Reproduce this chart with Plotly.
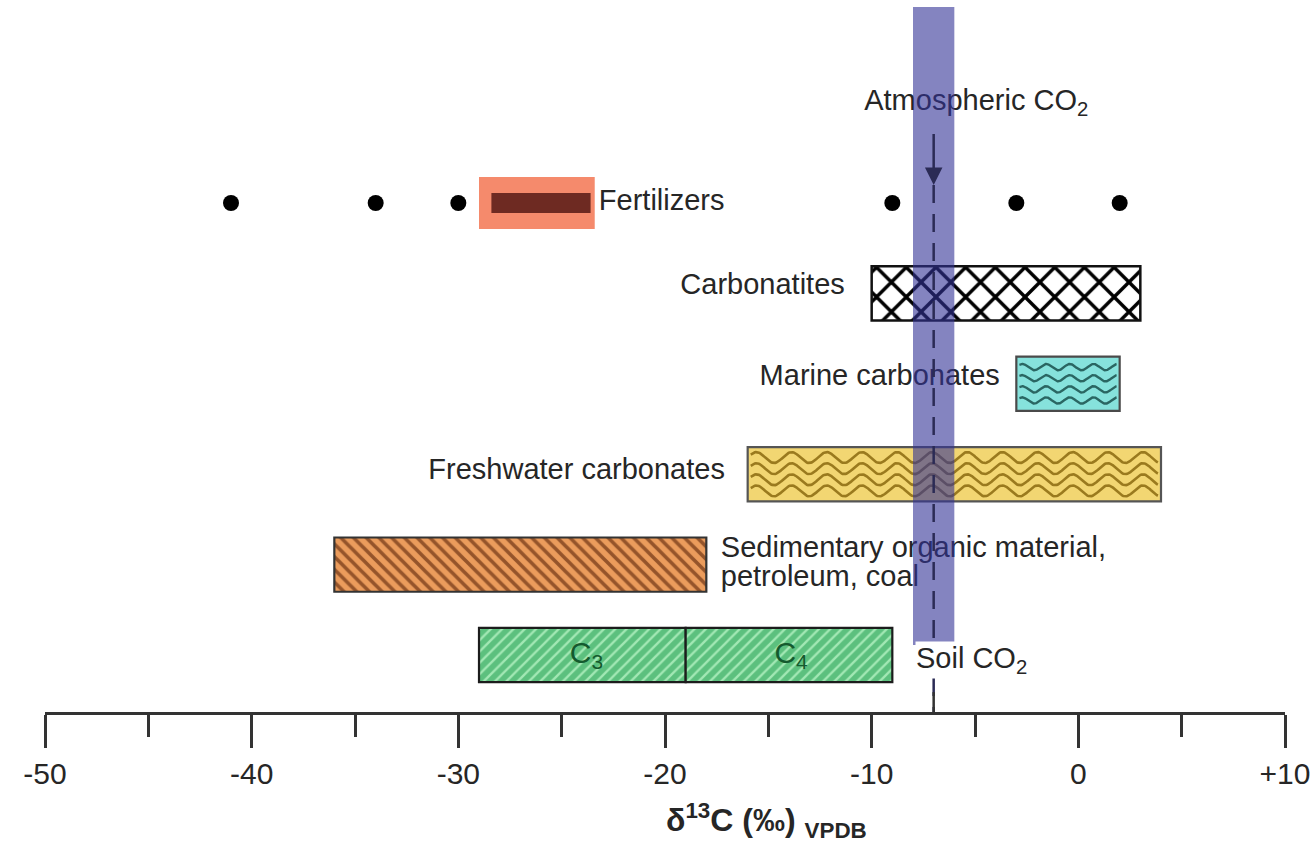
import numpy as np
import plotly.graph_objects as go

# δ13C ranges (‰ VPDB) of carbon sources, one row per source
sources = ["Fertilizers", "Carbonatites", "Marine carbonates", "Freshwater carbonates",
           "Sedimentary organic material", "C3", "C4"]
rows = [6, 5, 4, 3, 2, 1, 1]
low = [-29.0, -10.0, -3.0, -16.0, -36.0, -29.0, -19.0]
high = [-23.4, 3.0, 2.0, 4.0, -18.0, -19.0, -9.0]

# narrower core range of fertilizers
fert_core = [-28.4, -23.6]
# individual fertilizer values
fert_points = [-41, -34, -30, -9, -3, 2]

# atmospheric CO2 band and mean
atm_band = [-8.0, -6.0]
atm_mean = -7.0

tick_vals = [-50, -40, -30, -20, -10, 0, 10]
tick_text = ["-50", "-40", "-30", "-20", "-10", "0", "+10"]

FONT = "Liberation Sans, Arial, Helvetica, sans-serif"
TXT = "#262626"
Y_RANGE = [0.37, 8.245]
BAR_W = 0.6

styles = {
    "Fertilizers": dict(color="#f58a6c", line=dict(width=0)),
    "Carbonatites": dict(color="white", line=dict(color="#111111", width=2.5),
                         pattern=dict(shape="x", fgcolor="#000000", bgcolor="white",
                                      fgopacity=1, size=21, solidity=0.3)),
    "Marine carbonates": dict(color="#86e2dc", line=dict(color="#4a4a4a", width=2.2)),
    "Freshwater carbonates": dict(color="#f2d672", line=dict(color="#555555", width=2.2)),
    "Sedimentary organic material": dict(color="#eb9c5c", line=dict(color="#333333", width=2.2),
                                         pattern=dict(shape="\\", fgcolor="#95542a",
                                                      bgcolor="#eb9c5c", fgopacity=1,
                                                      size=9, solidity=0.4)),
    "C3": dict(color="#5cc07e", line=dict(color="#1c1c1c", width=2.2),
               pattern=dict(shape="/", fgcolor="#a2e8b4", bgcolor="#5cc07e",
                            fgopacity=1, size=8, solidity=0.3)),
    "C4": dict(color="#5cc07e", line=dict(color="#1c1c1c", width=2.2),
               pattern=dict(shape="/", fgcolor="#a2e8b4", bgcolor="#5cc07e",
                            fgopacity=1, size=8, solidity=0.3)),
}

fig = go.Figure()

for name, r, lo, hi in zip(sources, rows, low, high):
    w = 0.575 if name == "Fertilizers" else BAR_W
    fig.add_trace(go.Bar(
        y=[r], x=[hi - lo], base=[lo], orientation="h", width=w,
        marker=styles[name], showlegend=False, hoverinfo="skip"))

# dark core of the fertilizer range
fig.add_trace(go.Bar(
    y=[6], x=[fert_core[1] - fert_core[0]], base=[fert_core[0]], orientation="h",
    width=0.22, marker=dict(color="#6e2a22", line=dict(width=0)),
    showlegend=False, hoverinfo="skip"))


def wave_lines(lo, hi, yc, n, period, amp, color, width):
    """Wavy fill texture drawn inside a bar."""
    xs = np.linspace(lo + 0.15, hi - 0.15, 400)
    h = BAR_W * 0.82
    for i in range(n):
        y0 = yc - h / 2 + (i + 0.5) * h / n
        ys = y0 + amp * np.sin(2 * np.pi * (xs - lo) / period)
        fig.add_trace(go.Scatter(x=xs, y=ys, mode="lines",
                                 line=dict(color=color, width=width),
                                 showlegend=False, hoverinfo="skip"))


i_mar = sources.index("Marine carbonates")
wave_lines(low[i_mar], high[i_mar], rows[i_mar], 4, 1.15, 0.035, "#2a6662", 2.4)
i_fw = sources.index("Freshwater carbonates")
wave_lines(low[i_fw], high[i_fw], rows[i_fw], 4, 1.7, 0.06, "#9a7a1e", 2.6)

# C3 / C4 labels
fig.add_trace(go.Scatter(
    x=[(low[5] + high[5]) / 2 + 0.2, (low[6] + high[6]) / 2 + 0.1], y=[1, 1],
    mode="text", text=["C<sub>3</sub>", "C<sub>4</sub>"],
    textfont=dict(family=FONT, size=30, color="#145a2e"),
    showlegend=False, hoverinfo="skip"))

# fertilizer points
fig.add_trace(go.Scatter(
    x=fert_points, y=[6] * len(fert_points), mode="markers",
    marker=dict(color="black", size=16), showlegend=False, hoverinfo="skip"))

# source labels
label_text = ["Atmospheric CO<sub>2</sub>", "Fertilizers", "Carbonatites",
              "Marine carbonates", "Freshwater carbonates",
              "Sedimentary organic material,", "petroleum, coal"]
label_x = [-4.94, -23.2, -11.3, -3.8, -17.1, -17.3, -17.3]
label_y = [7.106, 6.0, 5.07, 4.07, 3.03, 2.17, 1.84]
label_pos = ["middle center", "middle right", "middle left", "middle left",
             "middle left", "middle right", "middle right"]
fig.add_trace(go.Scatter(
    x=label_x, y=label_y, mode="text", text=label_text, textposition=label_pos,
    textfont=dict(family=FONT, size=29, color=TXT),
    showlegend=False, hoverinfo="skip"))

shapes = [
    # atmospheric CO2 band
    dict(type="rect", xref="x", yref="y", x0=atm_band[0], x1=atm_band[1],
         y0=1.11, y1=8.168, fillcolor="rgba(50,50,150,0.6)", line=dict(width=0),
         layer="above"),
    # mean value, dashed
    dict(type="line", xref="x", yref="y", x0=atm_mean, x1=atm_mean, y0=6.2, y1=Y_RANGE[0],
         line=dict(color="#2b2b55", width=2.5, dash="18px,11px"), layer="above"),
    dict(type="line", xref="x", yref="y", x0=atm_mean, x1=atm_mean, y0=0.59, y1=Y_RANGE[0],
         line=dict(color="#333333", width=2.5), layer="above"),
]

annotations = [
    dict(x=atm_mean, y=6.2, ax=atm_mean, ay=6.78, xref="x", yref="y", axref="x", ayref="y",
         text="", showarrow=True, arrowhead=2, arrowsize=1.4, arrowwidth=2.5,
         arrowcolor="#2b2b55", standoff=0),
    dict(x=-7.9, y=0.945, xref="x", yref="y", text="Soil CO<sub>2</sub>", showarrow=False,
         xanchor="left", yanchor="middle", bgcolor="white", borderpad=0,
         font=dict(family=FONT, size=29, color=TXT)),
    dict(x=-15.1, y=-0.152, xref="x", yref="paper",
         text="<b>δ<sup>13</sup>C (‰) <sub>VPDB</sub></b>", showarrow=False,
         xanchor="center", yanchor="middle",
         font=dict(family=FONT, size=32, color=TXT)),
]

fig.update_layout(
    width=1312, height=850, autosize=False,
    margin=dict(l=45, r=27, t=0, b=138),
    paper_bgcolor="white", plot_bgcolor="white",
    barmode="overlay", showlegend=False,
    shapes=shapes, annotations=annotations,
    xaxis=dict(range=[-50, 10], showgrid=False, zeroline=False,
               showline=True, linecolor="#333333", linewidth=3,
               ticks="outside", ticklen=33, tickwidth=3, tickcolor="#333333",
               tickvals=tick_vals, ticktext=tick_text,
               tickfont=dict(family=FONT, size=30, color=TXT),
               ticklabeloverflow="allow",
               minor=dict(dtick=5, ticks="outside", ticklen=22, tickwidth=3,
                          tickcolor="#333333"),
               automargin=False, fixedrange=True),
    yaxis=dict(range=Y_RANGE, visible=False, automargin=False, fixedrange=True),
)

fig.write_html("out.html")
